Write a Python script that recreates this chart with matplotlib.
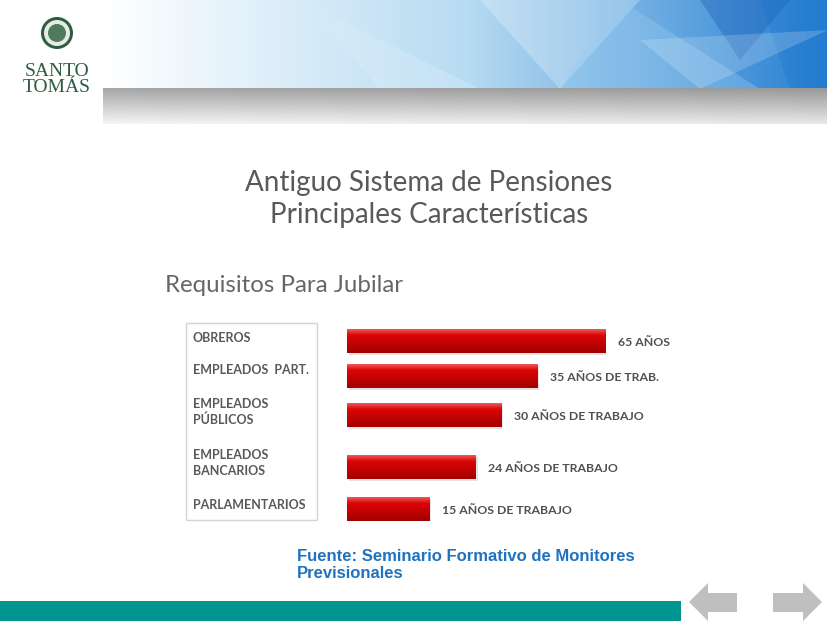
import numpy as np
import matplotlib
matplotlib.use("Agg")
import matplotlib.pyplot as plt
from matplotlib.patches import Rectangle, Polygon, Circle

# data
categories = ["OBREROS", "EMPLEADOS  PART.", "EMPLEADOS\nPÚBLICOS", "EMPLEADOS\nBANCARIOS", "PARLAMENTARIOS"]
years = [65, 35, 30, 24, 15]
value_labels = ["65 AÑOS", "35 AÑOS DE TRAB.", "30 AÑOS DE TRABAJO", "24 AÑOS DE TRABAJO", "15 AÑOS DE TRABAJO"]
# drawn bar length, relative to the longest bar (the slide does not draw them to scale)
bar_length = [100, 73.4, 59.8, 49.8, 31.7]

W, H = 828, 621
fig = plt.figure(figsize=(W / 100, H / 100), dpi=100)

# background axes in pixel coordinates
bg = fig.add_axes([0, 0, 1, 1])
bg.set_xlim(0, W)
bg.set_ylim(H, 0)
bg.axis("off")

# header blue gradient
nx = 400
t = np.linspace(0, 1, nx)
white = np.array([1.0, 1.0, 1.0])
light = np.array([0.72, 0.86, 0.95])
blue = np.array([0.15, 0.50, 0.82])
cols = np.where(t[:, None] < 0.5,
                white + (light - white) * (t[:, None] / 0.5),
                light + (blue - light) * ((t[:, None] - 0.5) / 0.5))
head = np.tile(cols[None, :, :], (30, 1, 1))
bg.imshow(head, extent=[103, W, 89, 0], aspect="auto", zorder=1)

# a few translucent facets
facets = [
    ([(480, 0), (640, 0), (560, 89)], (1, 1, 1), 0.25),
    ([(620, 0), (760, 89), (560, 89)], (0.6, 0.8, 0.95), 0.35),
    ([(700, 0), (790, 0), (740, 60)], (0.1, 0.35, 0.7), 0.35),
    ([(760, 0), (828, 0), (828, 89), (790, 89)], (0.1, 0.45, 0.8), 0.3),
    ([(640, 40), (828, 30), (700, 89)], (1, 1, 1), 0.18),
    ([(300, 0), (480, 89), (380, 89)], (0.85, 0.93, 0.98), 0.4),
]
for pts, c, a in facets:
    bg.add_patch(Polygon(pts, closed=True, facecolor=c, alpha=a, edgecolor="none", zorder=2))

# grey band
g = np.linspace(0.62, 0.93, 40)
band = np.repeat(g[:, None], 200, axis=1)
band = band + np.linspace(0.03, -0.02, 200)[None, :]
band = np.clip(np.dstack([band, band, band]), 0, 1)
bg.imshow(band, extent=[103, W, 124, 88], aspect="auto", zorder=3)

# logo
green = "#2d5c43"
bg.add_patch(Circle((57, 33), 16, facecolor=green, edgecolor="none", zorder=4))
bg.add_patch(Circle((57, 33), 13, facecolor="#e6ece4", edgecolor="none", zorder=4))
bg.add_patch(Circle((57, 33), 9, facecolor="#4f7a5e", edgecolor="none", zorder=4))
bg.text(57, 71, "SANTO", ha="center", va="center", fontsize=14, color=green,
        family="Liberation Serif", zorder=5)
bg.text(57, 88, "TOMÁS", ha="center", va="center", fontsize=14, color=green,
        family="Liberation Serif", zorder=5)

# titles
bg.text(429, 183, "Antiguo Sistema de Pensiones", ha="center", va="center",
        fontsize=20, color="#595959", family="Lato")
bg.text(429, 215, "Principales Características", ha="center", va="center",
        fontsize=20, color="#595959", family="Lato")
bg.text(165, 285, "Requisitos Para Jubilar", ha="left", va="center",
        fontsize=17.3, color="#666666", family="Lato")

# category box
bg.add_patch(Rectangle((186, 323), 131, 197, facecolor="white", edgecolor="#d4d4d4", lw=1, zorder=2))
label_y = [338, 370, 412, 463, 505]
for lab, y in zip(categories, label_y):
    bg.text(193, y, lab, ha="left", va="center", fontsize=9, color="#595959",
            family="Lato", fontweight="bold", linespacing=1.4, zorder=3)

# source note
bg.text(297, 565, "Fuente: Seminario Formativo de Monitores\nPrevisionales", ha="left", va="center",
        fontsize=12, color="#1f72c0", family="Liberation Sans", fontweight="bold", linespacing=1.12)

# footer
bg.add_patch(Rectangle((0, 601), 681, 20, facecolor="#00968f", edgecolor="none"))
arrow_c = "#bfbfbf"
bg.add_patch(Polygon([(689, 602), (708, 583), (708, 593), (737, 593), (737, 612), (708, 612), (708, 621)],
                     closed=True, facecolor=arrow_c, edgecolor="none"))
bg.add_patch(Polygon([(822, 602), (803, 583), (803, 593), (773, 593), (773, 612), (803, 612), (803, 621)],
                     closed=True, facecolor=arrow_c, edgecolor="none"))

# bar chart axes: x from 347px to 606px for 100 units, y from 323px to 521px
ax = fig.add_axes([347 / W, (H - 521) / H, (606 - 347) / W, 198 / H])
ax.set_xlim(0, 100)
ax.set_ylim(521, 323)
ax.axis("off")
row_y = [341, 376, 415, 467, 509]
bar_h = 24

bars = ax.barh(row_y, bar_length, height=bar_h, color="#cc0000", edgecolor="none", zorder=2)
grad = np.linspace(0, 1, 64)
top = np.array([0.93, 0.35, 0.35])
mid = np.array([0.86, 0.02, 0.02])
bot = np.array([0.64, 0.0, 0.0])
gc = np.where(grad[:, None] < 0.25, top + (mid - top) * (grad[:, None] / 0.25),
              mid + (bot - mid) * ((grad[:, None] - 0.25) / 0.75))
gimg = np.tile(gc[:, None, :], (1, 4, 1))
for b in bars:
    x0, y0 = b.get_x(), b.get_y()
    w, h = b.get_width(), b.get_height()
    # soft shadow
    ax.add_patch(Rectangle((x0 + 0.6, y0 + 2), w, h, facecolor="#b0b0b0", alpha=0.35,
                           edgecolor="none", zorder=1))
    im = ax.imshow(gimg, extent=[x0, x0 + w, y0 + h, y0], aspect="auto", zorder=3)
    im.set_clip_path(b)

for b, lab in zip(bars, value_labels):
    ax.annotate(lab, (b.get_width(), b.get_y() + b.get_height() / 2), xytext=(9, -1),
                textcoords="offset points", ha="left", va="center", fontsize=8.8,
                color="#505050", family="Lato", fontweight="bold", annotation_clip=False)

fig.savefig("out.png", dpi=100)
